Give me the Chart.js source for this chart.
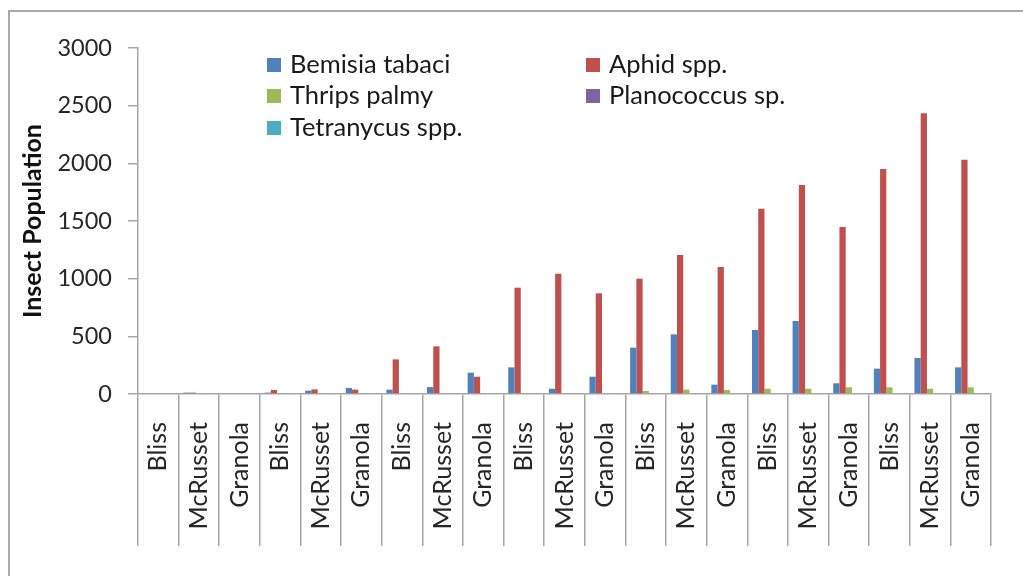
<!DOCTYPE html>
<html><head><meta charset="utf-8">
<script src="https://cdn.jsdelivr.net/npm/chart.js@4.4.0/dist/chart.umd.min.js"></script>
<style>
html,body{margin:0;padding:0;background:#fff;width:1023px;height:576px;overflow:hidden}
#frame{position:absolute;left:8px;top:10px;width:1200px;height:800px;border:2px solid #a9a9a9}
canvas{position:absolute;left:0;top:0}
</style></head><body>
<div id="frame"></div>
<canvas id="c" width="1023" height="576"></canvas>
<script>
const categories = ['Bliss','McRusset','Granola','Bliss','McRusset','Granola','Bliss','McRusset','Granola','Bliss','McRusset','Granola','Bliss','McRusset','Granola','Bliss','McRusset','Granola','Bliss','McRusset','Granola'];
const seriesNames = ['Bemisia tabaci','Aphid spp.','Thrips palmy','Planococcus sp.','Tetranycus spp.'];
const bemisia     = [0,12,0,12,29,52,38,60,185,231,46,150,402,517,81,555,633,93,220,312,231];
const aphid       = [0,12,0,35,40,38,300,413,150,922,1043,873,1000,1205,1101,1607,1812,1448,1951,2434,2032];
const thrips      = [0,0,0,0,0,0,0,0,0,0,0,0,26,38,35,46,46,58,58,46,58];
const planococcus = [0,0,0,0,0,0,0,0,0,0,0,0,0,0,0,0,0,0,0,0,0];
const tetranycus  = [0,0,0,0,0,0,0,0,0,0,0,0,0,0,0,0,0,0,0,0,0];
const yTicks = [0,500,1000,1500,2000,2500,3000];
const colors = ['#4F81BD','#C0504D','#9BBB59','#8064A2','#4BACC6'];

const FONT = 'Lato, "Open Sans", sans-serif';
const AXIS = '#a6a6a6';

const legendPlugin = {
  id: 'customLegend',
  afterDraw(chart) {
    const ctx = chart.ctx;
    const cols = [267, 586], rows = [65, 96, 128];
    ctx.save();
    chart.data.datasets.forEach((ds, i) => {
      const x = cols[i % 2], y = rows[Math.floor(i / 2)];
      ctx.fillStyle = ds.backgroundColor;
      ctx.fillRect(x, y - 7, 14, 14);
      ctx.fillStyle = '#1a1a1a';
      ctx.font = '25.5px ' + FONT;
      ctx.textBaseline = 'middle';
      ctx.textAlign = 'left';
      ctx.fillText(ds.label, x + 23, y);
    });
    ctx.restore();
  }
};

const seriesData = [bemisia, aphid, thrips, planococcus, tetranycus];

new Chart(document.getElementById('c'), {
  type: 'bar',
  data: {
    labels: categories,
    datasets: seriesNames.map((n, i) => ({
      label: n,
      data: seriesData[i],
      backgroundColor: colors[i],
      borderWidth: 0,
      barPercentage: 1,
      categoryPercentage: 5 / 6.5
    }))
  },
  options: {
    responsive: false,
    devicePixelRatio: 1,
    animation: false,
    layout: { padding: { top: 48, right: 32, left: 0, bottom: 0 } },
    plugins: { legend: { display: false }, tooltip: { enabled: false } },
    scales: {
      x: {
        grid: { offset: true, drawOnChartArea: false, drawTicks: true, tickLength: 152, color: AXIS, lineWidth: 1.5 },
        border: { color: AXIS, width: 1.5 },
        ticks: { minRotation: 90, maxRotation: 90, autoSkip: false, padding: -124, color: '#262626', font: { family: FONT, size: 25 } },
        afterFit(s) { s.height = 182; }
      },
      y: {
        min: 0, max: 3000,
        afterBuildTicks(s) { s.ticks = yTicks.map(v => ({ value: v })); },
        grid: { drawOnChartArea: false, tickLength: 10, color: AXIS, lineWidth: 1.5 },
        border: { color: AXIS, width: 1.5 },
        ticks: { padding: 16, color: '#262626', font: { family: FONT, size: 23.5 }, callback: v => String(v) },
        title: { display: true, text: 'Insect Population', color: '#111', font: { family: FONT, size: 25, weight: 'bold' }, padding: { top: 18, bottom: 0 } },
        afterFit(s) { s.width = 138; }
      }
    }
  },
  plugins: [legendPlugin]
});
</script>
</body></html>
